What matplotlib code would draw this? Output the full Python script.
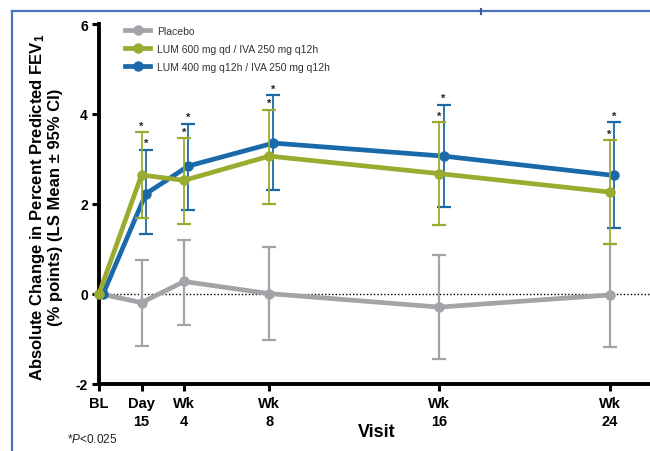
import matplotlib
matplotlib.use("Agg")
import matplotlib.pyplot as plt
from matplotlib.lines import Line2D
import numpy as np

plt.rcParams['font.family'] = ['Liberation Sans', 'DejaVu Sans']
plt.rcParams['mathtext.fontset'] = 'custom'
plt.rcParams['mathtext.rm'] = 'Liberation Sans'
plt.rcParams['mathtext.it'] = 'Liberation Sans:italic'
plt.rcParams['mathtext.bf'] = 'Liberation Sans:bold'
plt.rcParams['axes.unicode_minus'] = False

# ---- data ----
visit_weeks = [0, 2, 4, 8, 16, 24]
visit_labels = ["BL", "Day\n15", "Wk\n4", "Wk\n8", "Wk\n16", "Wk\n24"]

placebo_mean = [0.0, -0.20, 0.27, 0.00, -0.30, -0.03]
placebo_lo = [0.0, -1.17, -0.70, -1.03, -1.45, -1.18]
placebo_hi = [0.0, 0.75, 1.19, 1.04, 0.85, 1.10]

lum600_mean = [0.0, 2.64, 2.52, 3.06, 2.67, 2.26]
lum600_lo = [0.0, 1.68, 1.54, 1.99, 1.53, 1.11]
lum600_hi = [0.0, 3.59, 3.46, 4.09, 3.81, 3.41]

lum400_mean = [0.0, 2.22, 2.84, 3.35, 3.06, 2.63]
lum400_lo = [0.0, 1.32, 1.85, 2.30, 1.93, 1.47]
lum400_hi = [0.0, 3.20, 3.78, 4.41, 4.20, 3.81]

series_names = ["Placebo", "LUM 600 mg qd / IVA 250 mg q12h", "LUM 400 mg q12h / IVA 250 mg q12h"]

c_grey = "#a3a3a8"
c_green = "#9aab2f"
c_blue = "#1a6aaa"

W, H = 650, 452
fig = plt.figure(figsize=(W / 100, H / 100), dpi=100)
ax = fig.add_axes([99 / W, 1 - 384.5 / H, 1 - 99 / W, (384.5 - 25) / H])

x = np.array(visit_weeks, dtype=float)

def draw(xs, mean, lo, hi, color, z, stars=False, elw=1.3):
    mean = np.array(mean); lo = np.array(lo); hi = np.array(hi)
    ax.plot(xs, mean, color=color, lw=3.4, marker='o', ms=6.5, zorder=z,
            solid_capstyle='round', clip_on=False)
    idx = slice(1, None)
    ax.errorbar(xs[idx], mean[idx], yerr=[mean[idx] - lo[idx], hi[idx] - mean[idx]],
                fmt='none', ecolor=color, elinewidth=elw, capsize=5, capthick=1.6,
                zorder=z + 0.5)
    if stars:
        for xi, h in zip(xs[idx], hi[idx]):
            ax.text(xi, h + 0.04, "*", ha='center', va='bottom', fontsize=8,
                    fontweight='bold', color='#222222', zorder=10)

ax.axhline(0, color='black', lw=1.0, ls=(0, (1, 1.5)), zorder=1)
draw(x, placebo_mean, placebo_lo, placebo_hi, c_grey, 2, elw=1.6)
draw(x + 0.2, lum400_mean, lum400_lo, lum400_hi, c_blue, 3, stars=True)
draw(x, lum600_mean, lum600_lo, lum600_hi, c_green, 4, stars=True)

ax.set_xlim(0, 25.9)
ax.set_ylim(-2, 6)
ax.set_yticks([-2, 0, 2, 4, 6])
ax.set_xticks(visit_weeks)
ax.set_xticklabels(visit_labels, fontweight='bold', fontsize=10.5, va='top', linespacing=1.35)
for lab in ax.get_yticklabels():
    lab.set_fontweight('bold')
    lab.set_fontsize(10)
ax.tick_params(axis='both', direction='out', length=5, width=2.2)
ax.tick_params(axis='x', pad=4)
ax.tick_params(axis='y', pad=3)
for s in ['top', 'right']:
    ax.spines[s].set_visible(False)
for s in ['left', 'bottom']:
    ax.spines[s].set_linewidth(2.8)

ax.set_xlabel("Visit", fontweight='bold', fontsize=13)
ax.xaxis.set_label_coords((377 - 99) / (W - 99), -(433 - 384.5) / (384.5 - 25))
ax.xaxis.label.set_va('center')

fig.text(38 / W, 1 - 207 / H, "Absolute Change in Percent Predicted FEV$_\\mathbf{1}$",
         rotation=90, ha='center', va='center', fontsize=12, fontweight='bold')
fig.text(56 / W, 1 - 207 / H, "(% points) (LS Mean ± 95% CI)",
         rotation=90, ha='center', va='center', fontsize=12, fontweight='bold')

fig.text(67 / W, 1 - 440 / H, "*$\\mathit{P}$<0.025", ha='left', va='center', fontsize=8.5,
         color='#222222')

handles = [Line2D([], [], color=c, lw=3.4, marker='o', ms=6.5) for c in (c_grey, c_green, c_blue)]
fig.legend(handles, series_names, loc='upper left', bbox_to_anchor=(125 / W, 1 - 27 / H),
           frameon=False, fontsize=7.5, handlelength=2.4, handletextpad=0.7,
           labelspacing=0.75, borderpad=0, borderaxespad=0, labelcolor='#333333')

# blue frame
frame_c = "#4a72c0"
fig.add_artist(Line2D([12 / W, 12 / W], [0, 1 - 12 / H], color=frame_c, lw=1.6))
fig.add_artist(Line2D([12 / W, 1], [1 - 12 / H, 1 - 12 / H], color=frame_c, lw=1.6))
fig.add_artist(Line2D([481 / W, 481 / W], [1 - 10 / H, 1 - 14.5 / H], color="#3a5a90", lw=1.5))

fig.savefig("out.png", dpi=100)
